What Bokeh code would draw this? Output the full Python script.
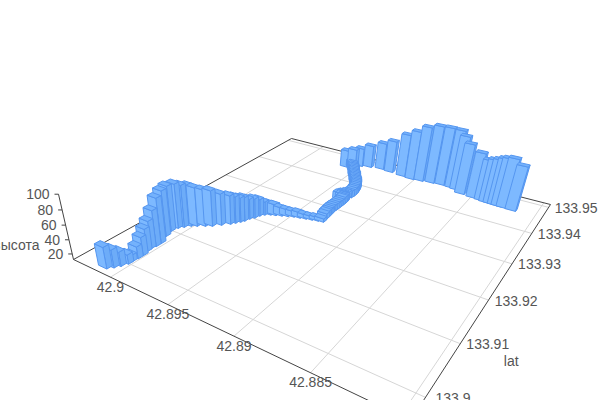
from bokeh.plotting import figure
from bokeh.embed import file_html
from bokeh.resources import INLINE
from bokeh.core.properties import value

LNG = [42.90130,42.90100,42.90076,42.90056,42.90057,42.90051,42.90051,42.90066,42.90071,42.90062,42.90062,42.90101,42.90121,42.90109,42.90083,42.90051,42.90015,42.89966,42.89924,42.89879,42.89834,42.89813,42.89792,42.89777,42.89765,42.89743,42.89731,42.89709,42.89672,42.89636,42.89594,42.89552,42.89511,42.89465,42.89420,42.89375,42.89330,42.89291,42.89297,42.89302,42.89308,42.89307,42.89306,42.89306,42.89310,42.89359,42.89342,42.89311,42.89310,42.89323,42.89343,42.89370,42.89404,42.89432,42.89468,42.89497,42.89534,42.89572,42.89600,42.89628,42.89615,42.89565,42.89524,42.89449,42.89343,42.89250,42.89130,42.89043,42.88967,42.88877,42.88794,42.88705,42.88658,42.88599,42.88500,42.88430,42.88390,42.88355,42.88320,42.88290,42.88250,42.88180,
42.89300,42.89305,42.89309,42.89306,42.89305,42.89307,42.89335,42.89350,42.89325,42.89308,42.89316,42.89332,42.89356,42.89386,42.89418,42.89450,42.89483,42.89515,42.89552,42.89586]
LAT = [133.89784,133.89856,133.89936,133.90034,133.90102,133.90204,133.90300,133.90409,133.90500,133.90581,133.90684,133.90872,133.91024,133.91152,133.91227,133.91312,133.91364,133.91435,133.91496,133.91599,133.91703,133.91772,133.91841,133.91901,133.91997,133.92068,133.92165,133.92237,133.92292,133.92323,133.92364,133.92404,133.92445,133.92471,133.92498,133.92524,133.92550,133.92568,133.92677,133.92788,133.92901,133.93025,133.93152,133.93281,133.93362,133.93377,133.93447,133.93536,133.93672,133.93792,133.93904,133.94008,133.94105,133.94213,133.94313,133.94426,133.94531,133.94638,133.94707,133.94777,133.94575,133.94648,133.94762,133.94816,133.94862,133.94836,133.94802,133.94777,133.94801,133.94835,133.94858,133.94843,133.94817,133.94718,133.94688,133.94667,133.94643,133.94637,133.94631,133.94625,133.94619,133.94608,
133.92735,133.92845,133.92965,133.93090,133.93215,133.93320,133.93370,133.93412,133.93490,133.93605,133.93730,133.93850,133.93955,133.94055,133.94160,133.94262,133.94370,133.94480,133.94585,133.94672]
ALT = [42,37,32,25,21,29,38,44,51,63,76,77,77,76,73,71,68,65,64,58,54,51,48,47,42,41,37,32,29,28,24,22,20,20,18,17,17,17,20,21,21,21,21,22,22,22,22,22,22,22,22,22,22,22,22,22,22,22,22,24,39,41,41,47,54,62,78,87,96,100,100,100,94,88,80,73,76,78,81,83,85,78,
21,21,21,21,21,22,22,22,22,22,22,22,22,22,22,22,22,22,22,22]

LNG0, LNG1 = 42.9036, 42.8795
LAT0, LAT1 = 133.8963, 133.9512
Z0 = 12.0
LNG_TICKS = [42.9, 42.895, 42.89, 42.885, 42.88]
LNG_LABELS = ["42.9", "42.895", "42.89", "42.885"]
LAT_TICKS = [133.9, 133.91, 133.92, 133.93, 133.94, 133.95]
LAT_LABELS = ["133.9", "133.91", "133.92", "133.93", "133.94", "133.95"]
Z_TICKS = [20, 40, 60, 80, 100]

(x0,y0),(x1,y1),(x2,y2),(x3,y3) = (73,259),(410,420),(550,204),(291,138)
dx1,dx2,sx = x1-x2,x3-x2,x0-x1+x2-x3
dy1,dy2,sy = y1-y2,y3-y2,y0-y1+y2-y3
den = dx1*dy2-dx2*dy1
g = (sx*dy2-dx2*sy)/den
h = (dx1*sy-sx*dy1)/den
a,b,c = x1-x0+g*x1, x3-x0+h*x3, x0
d,e,f = y1-y0+g*y1, y3-y0+h*y3, y0
k, vx, vy = -0.0735, 262.0, 1082.0

def project(lng, lat, z=Z0):
    s=(LNG0-lng)/(LNG0-LNG1); t=(lat-LAT0)/(LAT1-LAT0); q=k*(z-Z0)/(100-Z0)
    W=g*s+h*t+1+q
    return (a*s+b*t+c+vx*q)/W, (d*s+e*t+f+vy*q)/W

p = figure(width=600, height=400, x_range=(0,600), y_range=(400,0), output_backend="svg", toolbar_location=None,
           x_axis_type=None, y_axis_type=None, min_border=0, outline_line_color=None)
p.grid.visible=False

gx,gy=[],[]
for v in LNG_TICKS:
    A=project(v,LAT0);B=project(v,LAT1);gx.append([A[0],B[0]]);gy.append([A[1],B[1]])
for v in LAT_TICKS:
    A=project(LNG0,v);B=project(LNG1,v);gx.append([A[0],B[0]]);gy.append([A[1],B[1]])
p.multi_line(gx,gy,line_color="#d6d6d6",line_width=1)

cs=[project(LNG0,LAT0),project(LNG0,LAT1),project(LNG1,LAT1),project(LNG1,LAT0),project(LNG0,LAT0)]
p.line([q[0] for q in cs],[q[1] for q in cs],line_color="#444444",line_width=1)
zb=project(LNG0,LAT0,Z0);zt=project(LNG0,LAT0,100)
p.line([zb[0],zt[0]],[zb[1],zt[1]],line_color="#444444",line_width=1)
tx,ty=[],[]
for v in Z_TICKS:
    q=project(LNG0,LAT0,v);tx.append([q[0]-4,q[0]]);ty.append([q[1],q[1]])
p.multi_line(tx,ty,line_color="#444444",line_width=1)

DS,DT=0.0004,0.0005
order=sorted(range(len(LNG)),key=lambda i:-(g*(LNG0-LNG[i])/(LNG0-LNG1)+h*(LAT[i]-LAT0)/(LAT1-LAT0)))
fx,fy,fc=[],[],[]
for i in order:
    l0,l1=LNG[i]+DS,LNG[i]-DS; t0,t1=LAT[i]-DT,LAT[i]+DT; z=ALT[i]
    faces=[([(l1,t0,Z0),(l1,t1,Z0),(l1,t1,z),(l1,t0,z)],"#6dacf8"),
           ([(l0,t0,Z0),(l1,t0,Z0),(l1,t0,z),(l0,t0,z)],"#7db9ff"),
           ([(l0,t0,z),(l1,t0,z),(l1,t1,z),(l0,t1,z)],"#74b2fc")]
    for pts,col in faces:
        P=[project(*q) for q in pts]
        fx.append([q[0] for q in P]);fy.append([q[1] for q in P]);fc.append(col)
p.patches(fx,fy,fill_color=fc,line_color="#5596f0",line_width=1)

F=value("Liberation Sans")
def lab(x,y,s,al="center"):
    return p.text([x],[y],text=[s],text_font=F,text_font_size="14px",text_color="#555555",text_align=al,text_baseline="middle")
for v,s in zip(LNG_TICKS,LNG_LABELS):
    q=project(v,LAT0);lab(q[0],q[1]+9.5,s)
for v,s in zip(LAT_TICKS,LAT_LABELS):
    q=project(LNG1,v);lab(q[0]+27.5,q[1]+0.5,s)
for v in Z_TICKS:
    q=project(LNG0,LAT0,v);lab(q[0]-9,q[1],str(v),"right")
lab(510.7,360,"lat")
lab(39,244,"высота","right")

open("out.html","w").write(file_html(p,INLINE))
